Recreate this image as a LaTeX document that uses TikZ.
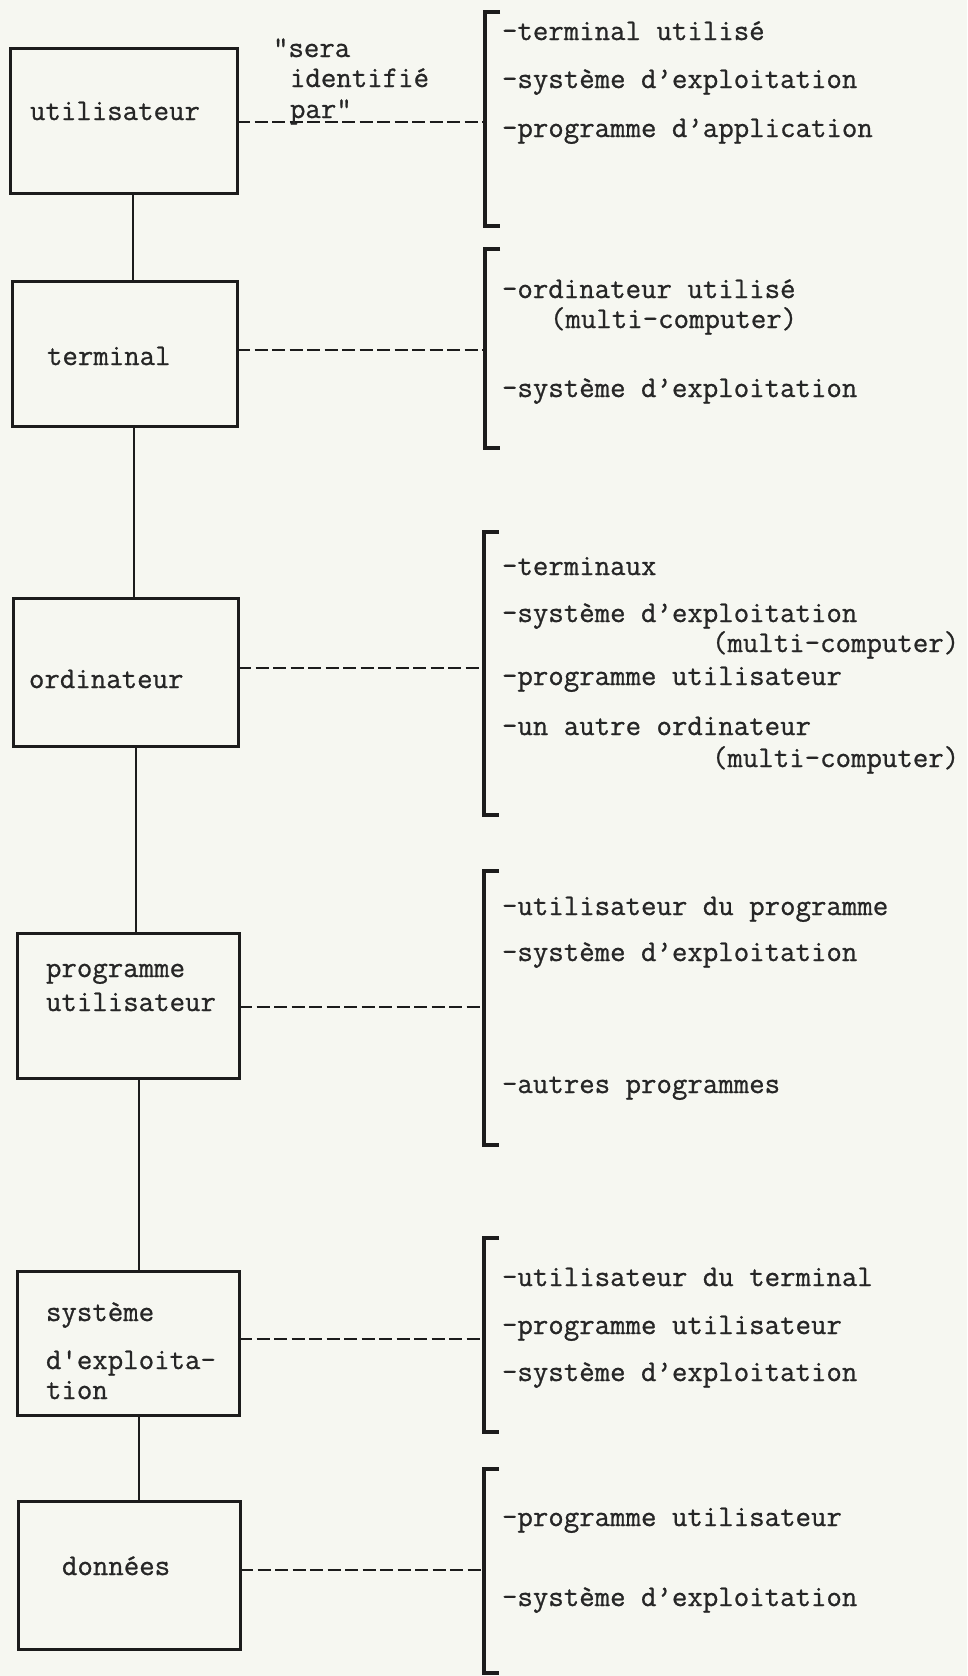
\documentclass[tikz,border=0pt]{standalone}
\usepackage{fontspec}
\newfontfamily\typewriter[FakeBold=0.8]{Latin Modern Mono}
\definecolor{paper}{HTML}{F6F7F1}
\definecolor{ink}{HTML}{1C1C1C}
\definecolor{type}{HTML}{262626}
\begin{document}
\begin{tikzpicture}[x=1pt,y=-1pt,
  every node/.style={inner sep=0pt, outer sep=0pt},
  box/.style={draw=ink, line width=3pt, anchor=north west},
  label/.style={anchor=base west, text=type, font=\typewriter\fontsize{30}{34}\selectfont},
  link/.style={draw=ink, line width=2.6pt},
  dotlink/.style={draw=ink, line width=2.8pt, dash pattern=on 13pt off 4.5pt},
  brace/.style={draw=ink, line width=3.4pt}
]
% page
\fill[paper] (0,0) rectangle (967,1676);
\useasboundingbox (0,0) rectangle (967,1676);

% ---- left column: the six entities ----
\node[box, minimum width=227pt, minimum height=145pt] (b1) at (10,48) {};
\node[box, minimum width=225pt, minimum height=145pt] (b2) at (12,281) {};
\node[box, minimum width=225pt, minimum height=148pt] (b3) at (13,598) {};
\node[box, minimum width=222pt, minimum height=145pt] (b4) at (17,933) {};
\node[box, minimum width=222pt, minimum height=144pt] (b5) at (17,1271) {};
\node[box, minimum width=222pt, minimum height=148pt] (b6) at (18,1501) {};

\node[label] (l1) at (30,120) {utilisateur};
\node[label] (l2) at (47,365) {terminal};
\node[label] (l3) at (29,688) {ordinateur};
\node[label] (l4a) at (46,977) {programme};
\node[label] (l4b) at (46,1011) {utilisateur};
\node[label] (l5a) at (46,1321) {système};
\node[label] (l5b) at (46,1369) {d'exploita-};
\node[label] (l5c) at (46,1399) {tion};
\node[label] (l6) at (62,1575) {données};

% vertical chain between the boxes
\coordinate (c12) at (133,0);
\coordinate (c23) at (134,0);
\coordinate (c34) at (136,0);
\coordinate (c45) at (139,0);
\coordinate (c56) at (139,0);
\draw[link] (b1.south -| c12) -- (b2.north -| c12);
\draw[link] (b2.south -| c23) -- (b3.north -| c23);
\draw[link] (b3.south -| c34) -- (b4.north -| c34);
\draw[link] (b4.south -| c45) -- (b5.north -| c45);
\draw[link] (b5.south -| c56) -- (b6.north -| c56);

% ---- right column: brackets ----
\coordinate (k1t) at (485,12);   \coordinate (k1m) at (485,122);  \coordinate (k1b) at (485,226);
\coordinate (k2t) at (485,249);  \coordinate (k2m) at (485,350);  \coordinate (k2b) at (485,448);
\coordinate (k3t) at (484,532);  \coordinate (k3m) at (484,668);  \coordinate (k3b) at (484,815);
\coordinate (k4t) at (484,871);  \coordinate (k4m) at (484,1007); \coordinate (k4b) at (484,1145);
\coordinate (k5t) at (484,1238); \coordinate (k5m) at (484,1339); \coordinate (k5b) at (484,1432);
\coordinate (k6t) at (484,1469); \coordinate (k6m) at (484,1570); \coordinate (k6b) at (484,1673);
\foreach \k in {1,...,6}{
  \draw[brace] ([xshift=15pt]k\k t) -- (k\k t) -- (k\k b) -- ([xshift=15pt]k\k b);
}

% dashed relations from each box to its bracket
\draw[dotlink] (b1.east |- k1m) -- (k1m);
\draw[dotlink] (b2.east |- k2m) -- (k2m);
\draw[dotlink] (b3.east |- k3m) -- (k3m);
\draw[dotlink] (b4.east |- k4m) -- (k4m);
\draw[dotlink] (b5.east |- k5m) -- (k5m);
\draw[dotlink] (b6.east |- k6m) -- (k6m);

% caption of the first relation
\node[label] (q1) at (273,57) {"sera};
\node[label] (q2) at (290,87) {identifié};
\node[label] (q3) at (290,118) {par"};

% ---- bracket contents ----
\node[label] (r11) at (502,40)  {-terminal utilisé};
\node[label] (r12) at (502,88)  {-système d’exploitation};
\node[label] (r13) at (502,137) {-programme d’application};

\node[label] (r21) at (502,298) {-ordinateur utilisé};
\node[label] (r22) at (550,328) {(multi-computer)};
\node[label] (r23) at (502,397) {-système d’exploitation};

\node[label] (r31) at (502,575) {-terminaux};
\node[label] (r32) at (502,622) {-système d’exploitation};
\node[label] (r33) at (712,652) {(multi-computer)};
\node[label] (r34) at (502,685) {-programme utilisateur};
\node[label] (r35) at (502,735) {-un autre ordinateur};
\node[label] (r36) at (712,767) {(multi-computer)};

\node[label] (r41) at (502,915)  {-utilisateur du programme};
\node[label] (r42) at (502,961)  {-système d’exploitation};
\node[label] (r43) at (502,1093) {-autres programmes};

\node[label] (r51) at (502,1286) {-utilisateur du terminal};
\node[label] (r52) at (502,1334) {-programme utilisateur};
\node[label] (r53) at (502,1381) {-système d’exploitation};

\node[label] (r61) at (502,1526) {-programme utilisateur};
\node[label] (r62) at (502,1606) {-système d’exploitation};
\end{tikzpicture}
\end{document}
